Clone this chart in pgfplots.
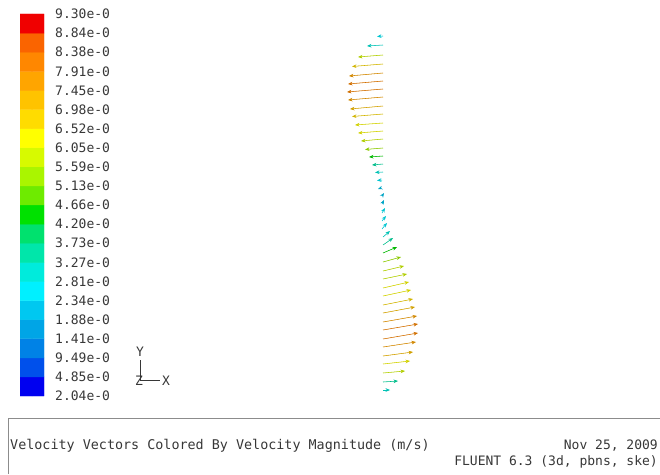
\documentclass[border=0pt]{standalone}
\usepackage{pgfplots}
\pgfplotsset{compat=1.18}
\usepackage{fontspec}
\setmonofont{DejaVu Sans Mono}
\usetikzlibrary{arrows.meta}

\definecolor{fltext}{RGB}{55,55,55}
\definecolor{flbox}{RGB}{140,140,140}

% fluent style banded colormap, index 0 = lowest band
\pgfplotsset{colormap={fluent}{
  rgb255=(0,0,240) rgb255=(0,80,235) rgb255=(0,130,230) rgb255=(0,165,230) rgb255=(0,200,240)
  rgb255=(0,240,255) rgb255=(0,235,220) rgb255=(0,230,170) rgb255=(0,225,110) rgb255=(0,225,0)
  rgb255=(110,235,0) rgb255=(170,245,0) rgb255=(215,250,0) rgb255=(255,255,0) rgb255=(255,220,0)
  rgb255=(255,195,0) rgb255=(255,165,0) rgb255=(255,135,0) rgb255=(250,100,0) rgb255=(240,0,0)}}

\newcommand{\fl}{\ttfamily\fontsize{13}{15}\selectfont}
\newcommand{\flcap}{\ttfamily\fontsize{13.4}{15}\selectfont}

\begin{document}
\begin{tikzpicture}
% vectors, triad and caption box, all in pixel units
\begin{axis}[
    at={(0,0)}, anchor=south west,
    width=660pt, height=474pt, scale only axis,
    xmin=0, xmax=660, ymin=0, ymax=474,
    y dir=reverse,
    hide axis, clip=false,
    colormap name=fluent,
    colormap access=piecewise constant,
    point meta min=-0.01, point meta max=18.99,
  ]
  \addplot [
      quiver={u=\thisrow{u}, v=\thisrow{v},
        every arrow/.append style={draw=mapped color!82!black, fill=mapped color!90!black,
          -{Stealth[length=4.5pt,width=3.6pt]}, line width=0.55pt}},
      point meta=explicit,
    ] table [meta=c] {
x   y   u   v   c
383 36  -6  0.5 5
383 45  -16 1   6
383 55  -25 2   12
383 64  -31 2.5 14
383 73  -34 3   16
383 81  -35 3   17
383 89  -36 3   17
383 97  -35 3   16
383 106 -33 3   15
383 114 -31 2.5 14
383 123 -28 2   13
383 131 -25 2   13
383 139 -22 2   12
383 148 -18 1.5 11
383 156 -14 1   9
383 164 -11 1   7
383 172 -8  0.5 6
382 180 -5  0.5 5
381 188 -3  1   4
382 196 2   -3  4
382 204 2   -4  4
382 213 3   -5  5
382 221 4   -5  5
382 229 5   -6  5
383 237 7   -6  6
383 245 10  -7  7
383 253 14  -6  9
383 262 18  -5  11
383 271 21  -5  12
383 279 24  -5  12
383 288 26  -6  13
383 296 28  -6  13
383 305 30  -6  14
383 313 32  -6  15
383 322 34  -6  16
383 330 35  -6  17
383 339 35  -6  17
383 347 33  -5  16
383 356 30  -4  15
383 364 27  -3  13
383 373 22  -2  12
383 382 15  -1  7
383 390 7   0   6
  };
  % coordinate triad
  \addplot [fltext, line width=0.6pt] coordinates {(140,360) (140,380) (160,380)};
  \node [font=\fl, text=fltext, inner sep=0pt] at (axis cs:140,352) {Y};
  \node [font=\fl, text=fltext, inner sep=0pt] at (axis cs:139,381) {Z};
  \node [font=\fl, text=fltext, inner sep=0pt] at (axis cs:166,381) {X};
  % caption box
  \addplot [flbox, line width=0.8pt] coordinates {(8,474) (8,418) (660,418)};
  \node [font=\flcap, text=fltext, anchor=west, inner sep=0pt] at (axis cs:10,446)
    {Velocity Vectors Colored By Velocity Magnitude (m/s)};
  \node [font=\fl, text=fltext, anchor=east, inner sep=0pt] at (axis cs:658,446) {Nov 25, 2009};
  \node [font=\fl, text=fltext, anchor=east, inner sep=0pt] at (axis cs:658,462)
    {FLUENT 6.3 (3d, pbns, ske)};
\end{axis}

% colour bar
\begin{axis}[
    at={(20pt,78pt)}, anchor=south west,
    width=24pt, height=382pt, scale only axis,
    xmin=0, xmax=2, ymin=0, ymax=20,
    axis line style={draw=none},
    xtick=\empty,
    ytick={0,...,20},
    yticklabels={2.04e-0,4.85e-0,9.49e-0,1.41e-0,1.88e-0,2.34e-0,2.81e-0,3.27e-0,3.73e-0,4.20e-0,
      4.66e-0,5.13e-0,5.59e-0,6.05e-0,6.52e-0,6.98e-0,7.45e-0,7.91e-0,8.38e-0,8.84e-0,9.30e-0},
    ytick pos=right, yticklabel pos=right,
    major tick length=0pt,
    yticklabel style={font=\fl, text=fltext, anchor=west, inner sep=0pt, xshift=11pt},
    colormap name=fluent,
    colormap access=direct,
  ]
  \addplot [matrix plot*, mesh/cols=2, point meta=explicit] table [meta=c] {
x   y    c
0.5 0.5  0
1.5 0.5  0
0.5 1.5  1
1.5 1.5  1
0.5 2.5  2
1.5 2.5  2
0.5 3.5  3
1.5 3.5  3
0.5 4.5  4
1.5 4.5  4
0.5 5.5  5
1.5 5.5  5
0.5 6.5  6
1.5 6.5  6
0.5 7.5  7
1.5 7.5  7
0.5 8.5  8
1.5 8.5  8
0.5 9.5  9
1.5 9.5  9
0.5 10.5 10
1.5 10.5 10
0.5 11.5 11
1.5 11.5 11
0.5 12.5 12
1.5 12.5 12
0.5 13.5 13
1.5 13.5 13
0.5 14.5 14
1.5 14.5 14
0.5 15.5 15
1.5 15.5 15
0.5 16.5 16
1.5 16.5 16
0.5 17.5 17
1.5 17.5 17
0.5 18.5 18
1.5 18.5 18
0.5 19.5 19
1.5 19.5 19
  };
\end{axis}
\pgfresetboundingbox
\path [use as bounding box] (0,0) rectangle (660pt,474pt);
\end{tikzpicture}
\end{document}
